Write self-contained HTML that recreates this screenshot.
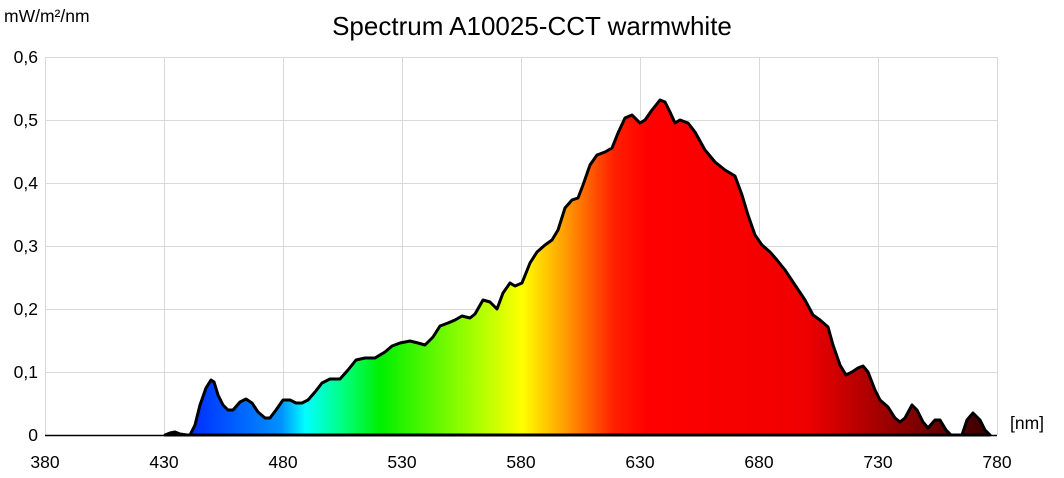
<!DOCTYPE html>
<html><head><meta charset="utf-8"><style>body{margin:0;background:#fff}svg{display:block}text{font-family:"Liberation Sans",sans-serif}</style></head><body>
<svg width="1064" height="478" xmlns="http://www.w3.org/2000/svg">
<defs><linearGradient id="g" gradientUnits="userSpaceOnUse" x1="164" y1="0" x2="997" y2="0">
<stop offset="0" stop-color="#2000a0"/>
<stop offset="0.035" stop-color="#0030ff"/>
<stop offset="0.14" stop-color="#0090ff"/>
<stop offset="0.17" stop-color="#00ffff"/>
<stop offset="0.215" stop-color="#00ff80"/>
<stop offset="0.26" stop-color="#00f000"/>
<stop offset="0.38" stop-color="#b0ff00"/>
<stop offset="0.43" stop-color="#ffff00"/>
<stop offset="0.48" stop-color="#ffa000"/>
<stop offset="0.54" stop-color="#ff2000"/>
<stop offset="0.58" stop-color="#ff0000"/>
<stop offset="0.77" stop-color="#f00000"/>
<stop offset="0.88" stop-color="#900000"/>
<stop offset="1" stop-color="#300000"/>
</linearGradient></defs>
<g stroke="#d9d9d9" stroke-width="1">
<line x1="45" y1="57.5" x2="997" y2="57.5"/><line x1="45" y1="120.5" x2="997" y2="120.5"/><line x1="45" y1="183.5" x2="997" y2="183.5"/><line x1="45" y1="246.5" x2="997" y2="246.5"/><line x1="45" y1="309.5" x2="997" y2="309.5"/><line x1="45" y1="372.5" x2="997" y2="372.5"/>
<line x1="45.5" y1="57" x2="45.5" y2="435"/><line x1="164.5" y1="57" x2="164.5" y2="435"/><line x1="283.5" y1="57" x2="283.5" y2="435"/><line x1="402.5" y1="57" x2="402.5" y2="435"/><line x1="521.5" y1="57" x2="521.5" y2="435"/><line x1="640.5" y1="57" x2="640.5" y2="435"/><line x1="759.5" y1="57" x2="759.5" y2="435"/><line x1="878.5" y1="57" x2="878.5" y2="435"/><line x1="997.5" y1="57" x2="997.5" y2="435"/>
</g>
<path fill="url(#g)" stroke="#000" stroke-width="3" stroke-linejoin="round" d="M165,435 L170,433 L175,432 L180,434 L187,435 L190,435 L195,425 L200,405 L206,388 L211,380 L214,382 L218,395 L223,405 L228,410 L233,410 L240,402 L246,399 L252,403 L258,412 L265,418 L270,418 L276,410 L283,400 L290,400 L296,403 L302,403 L308,400 L315,392 L322,383 L330,379 L340,379 L348,370 L356,360 L365,358 L375,358 L385,352 L392,346 L400,343 L410,341 L418,343 L425,345 L433,337 L440,326 L448,323 L455,320 L462,316 L470,318 L475,314 L483,300 L490,302 L497,309 L503,293 L510,283 L515,286 L522,283 L530,263 L537,252 L545,245 L552,240 L558,230 L565,208 L572,200 L578,198 L583,185 L590,165 L597,155 L605,152 L612,148 L618,133 L625,118 L632,115 L640,123 L645,120 L652,110 L660,100 L665,102 L670,112 L675,123 L680,120 L688,123 L695,132 L705,150 L715,162 L725,170 L735,176 L742,195 L748,215 L755,235 L762,245 L770,252 L777,260 L785,270 L795,285 L805,300 L813,315 L820,320 L828,327 L833,345 L840,365 L846,375 L852,372 L858,368 L863,366 L868,372 L875,390 L880,400 L888,407 L895,418 L900,422 L905,418 L912,405 L917,410 L923,422 L928,428 L935,420 L940,420 L946,430 L951,435 L962,435 L967,420 L973,413 L980,420 L985,430 L990,435 Z"/>
<line x1="45" y1="435.5" x2="997" y2="435.5" stroke="#000" stroke-width="1.5"/>
<g font-size="17.5" fill="#000">
<text x="38" y="63" text-anchor="end">0,6</text><text x="38" y="126" text-anchor="end">0,5</text><text x="38" y="189" text-anchor="end">0,4</text><text x="38" y="252" text-anchor="end">0,3</text><text x="38" y="315" text-anchor="end">0,2</text><text x="38" y="378" text-anchor="end">0,1</text><text x="38" y="441" text-anchor="end">0</text>
<text x="45" y="468" text-anchor="middle">380</text><text x="164" y="468" text-anchor="middle">430</text><text x="283" y="468" text-anchor="middle">480</text><text x="402" y="468" text-anchor="middle">530</text><text x="521" y="468" text-anchor="middle">580</text><text x="640" y="468" text-anchor="middle">630</text><text x="759" y="468" text-anchor="middle">680</text><text x="878" y="468" text-anchor="middle">730</text><text x="997" y="468" text-anchor="middle">780</text>
<text x="1010" y="429">[nm]</text>
<text x="4" y="22">mW/m²/nm</text>
</g>
<text x="532" y="35" text-anchor="middle" font-size="26">Spectrum A10025-CCT warmwhite</text>
</svg>
</body></html>
